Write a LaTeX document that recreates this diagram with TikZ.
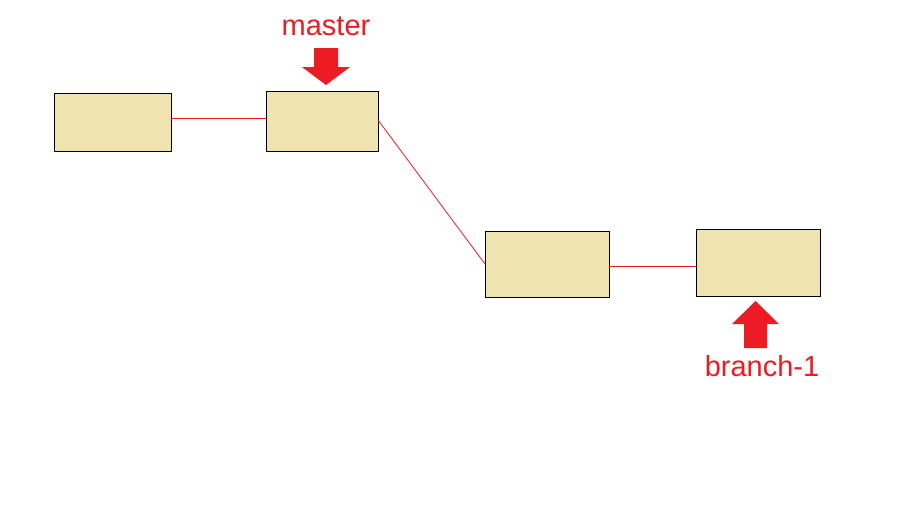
\documentclass[tikz,border=0pt]{standalone}
\usepackage{fontspec}
\setmainfont{Liberation Sans}
\definecolor{boxfill}{RGB}{239,228,176}
\definecolor{pred}{RGB}{237,28,36}
\begin{document}
\begin{tikzpicture}[x=1pt,y=-1pt,
  commit/.style={draw=black,line width=1pt,fill=boxfill,inner sep=0pt,outer sep=0pt},
  link/.style={draw=pred,line width=0.8pt},
  fatarrow/.style={fill=pred,draw=none},
  lbl/.style={text=pred,font=\fontsize{29}{31}\selectfont,inner sep=0pt}]
\useasboundingbox (0,0) rectangle (904,512);
\fill[white] (0,0) rectangle (904,512);
% commits
\node[commit,minimum width=117pt,minimum height=58pt] (c1) at (112.5,122) {};
\node[commit,minimum width=112pt,minimum height=60pt] (c2) at (322,121) {};
\node[commit,minimum width=124pt,minimum height=66pt] (c3) at (547,264) {};
\node[commit,minimum width=124pt,minimum height=67pt] (c4) at (758,262.5) {};
% links
\draw[link] (c1.east) ++(0,-4) -- (c2.west |- 0,118);
\draw[link] (c2.east) ++(0,-1) -- (c3.west);
\draw[link] (c3.east) ++(0,2) -- (c4.west |- 0,266);
% master pointer
\node[lbl] (master) at (326,26) {master};
\path[fatarrow] (314,48) -- (338,48) -- (338,67) -- (350,67) -- (326,85) -- (302,67) -- (314,67) -- cycle;
% branch-1 pointer
\path[fatarrow] (744,348) -- (767,348) -- (767,324) -- (779,324) -- (755.5,301) -- (732,324) -- (744,324) -- cycle;
\node[lbl] (branch) at (762,366) {branch-1};
\end{tikzpicture}
\end{document}
